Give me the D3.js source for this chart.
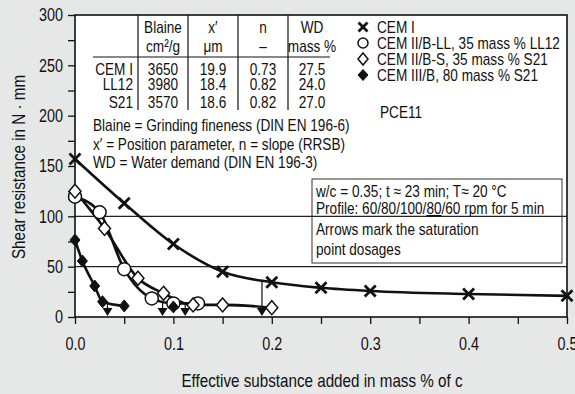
<!DOCTYPE html>
<html><head><meta charset="utf-8">
<script src="https://cdn.jsdelivr.net/npm/d3@7"></script>
<style>
body{margin:0;background:#e6e7e7;}
svg text{font-family:"Liberation Sans",Arial,sans-serif;fill:#111;}
</style></head><body>
<svg id="c" width="575" height="394"></svg>
<script>
// ---- data ----
const cemI_x = [0, 0.05, 0.1, 0.15, 0.2, 0.25, 0.3, 0.4, 0.5];
const cemI_y = [157, 113, 72.5, 45, 34.5, 29, 25.8, 22.8, 21];
const ll12_x = [0, 0.025, 0.05, 0.078, 0.1, 0.125];
const ll12_y = [119.5, 104, 47.5, 18.5, 13.5, 13.5];
const s21_x = [0, 0.03, 0.064, 0.09, 0.12, 0.15, 0.2];
const s21_y = [125, 88, 38.5, 23.5, 12, 12, 9.3];
const cem3_x = [0, 0.0075, 0.02, 0.028, 0.05];
const cem3_y = [76.5, 55.6, 30.8, 15.2, 11];
const cem3Extra_x = [0.1];
const cem3Extra_y = [10];
const arrow_x = [0.033, 0.089, 0.112, 0.19];
const arrow_top = [13, 16, 13, 35];
const xTickLabels = [0, 0.1, 0.2, 0.3, 0.4, 0.5];
const yTickLabels = [0, 50, 100, 150, 200, 250, 300];
const gridValues = [50, 100];
const legendNames = ["CEM I", "CEM II/B-LL, 35 mass % LL12", "CEM II/B-S, 35 mass % S21", "CEM III/B, 80 mass % S21"];
const legendShapes = ["cross", "circle", "diamondOpen", "diamondFilled"];
const tableHead1 = ["Blaine", "x\u2032", "n", "WD"];
const tableHead2 = ["cm²/g", "μm", "\u2013", "mass %"];
const tableRows = ["CEM I", "LL12", "S21"];
const tableBlaine = ["3650", "3980", "3570"];
const tableX = ["19.9", "18.4", "18.6"];
const tableN = ["0.73", "0.82", "0.82"];
const tableWD = ["27.5", "24.0", "27.0"];
const notes = ["Blaine = Grinding fineness (DIN EN 196-6)", "x\u2032 = Position parameter, n = slope (RRSB)", "WD = Water demand (DIN EN 196-3)"];

// ---- layout ----
const svg = d3.select("#c");
const L = 75, R = 567, T = 15, B = 317;
const FS = 17;          // font size
const NARROW = 0.80;    // horizontal condensing factor (condensed typeface look)
const x = d3.scaleLinear().domain([0, 0.5]).range([L, R]);
const y = d3.scaleLinear().domain([0, 300]).range([B, T]);

svg.append("rect").attr("x", L).attr("y", T).attr("width", R - L).attr("height", B - T).attr("fill", "#fff");

// text box (under gridline)
svg.append("rect").attr("x", 312).attr("y", 179).attr("width", 250).attr("height", 84)
  .attr("fill", "#fff").attr("stroke", "#333").attr("stroke-width", 1);

// gridlines
svg.selectAll(".grid").data(gridValues).join("line")
  .attr("x1", L).attr("x2", R).attr("y1", d => y(d)).attr("y2", d => y(d))
  .attr("stroke", "#222").attr("stroke-width", 1.2);

// axes
const yAxis = d3.axisLeft(y).tickValues(d3.range(0, 301, 25)).tickSize(7).tickPadding(5)
  .tickFormat(d => yTickLabels.includes(d) ? d : "");
const gy = svg.append("g").attr("transform", `translate(${L},0)`).call(yAxis);
const xAxis = d3.axisBottom(x).tickValues(d3.range(0, 0.5001, 0.05)).tickSize(7).tickPadding(13)
  .tickFormat(d => xTickLabels.some(v => Math.abs(v - d) < 1e-9) ? d3.format(".1f")(d) : "");
const gx = svg.append("g").attr("transform", `translate(0,${B})`).call(xAxis);
[gx, gy].forEach(g => {
  g.select(".domain").remove();
  g.selectAll("line").attr("stroke", "#111").attr("stroke-width", 1.3);
  g.selectAll("text").attr("font-size", FS + 1).attr("fill", "#111")
    .style("font-family", '"Liberation Sans",Arial,sans-serif');
});

// frame
svg.append("rect").attr("x", L).attr("y", T).attr("width", R - L).attr("height", B - T)
  .attr("fill", "none").attr("stroke", "#111").attr("stroke-width", 1.6);

// table
const tcx = [163, 213, 263, 312];
[138, 188, 238, 288].forEach(v => svg.append("line").attr("x1", v).attr("x2", v).attr("y1", T).attr("y2", 110)
  .attr("stroke", "#111").attr("stroke-width", 1.2));
svg.append("line").attr("x1", 93).attr("x2", 330).attr("y1", 57).attr("y2", 57).attr("stroke", "#111").attr("stroke-width", 1.2);
const tt = (s, xx, yy, anchor) => svg.append("text").attr("x", xx).attr("y", yy).attr("text-anchor", anchor || "middle")
  .attr("font-size", FS).text(s);
tableHead1.forEach((s, i) => tt(s, tcx[i], 33));
tableHead2.forEach((s, i) => tt(s, tcx[i], 52));
const rowY = [75, 90, 108];
tableRows.forEach((s, i) => tt(s, 133, rowY[i], "end"));
[tableBlaine, tableX, tableN, tableWD].forEach((col, c) => col.forEach((s, i) => tt(s, tcx[c], rowY[i])));
notes.forEach((s, i) => tt(s, 93, 131 + i * 18.5, "start"));

// markers
const markerPath = {
  cross: s => `M${-s},${-s}L${s},${s}M${-s},${s}L${s},${-s}`,
  diamond: (w, h) => `M0,${-h}L${w},0L0,${h}L${-w},0Z`
};
function drawMarker(g, shape, cx, cy, big) {
  if (shape === "cross") {
    g.append("path").attr("d", markerPath.cross(big ? 5.5 : 4.5)).attr("transform", `translate(${cx},${cy})`)
      .attr("stroke", "#111").attr("stroke-width", 2.8).attr("fill", "none");
  } else if (shape === "circle") {
    g.append("circle").attr("cx", cx).attr("cy", cy).attr("r", big ? 6.5 : 5)
      .attr("fill", "#fff").attr("stroke", "#111").attr("stroke-width", 1.5);
  } else if (shape === "diamondOpen") {
    g.append("path").attr("d", big ? markerPath.diamond(6, 7) : markerPath.diamond(5, 6)).attr("transform", `translate(${cx},${cy})`)
      .attr("fill", "#fff").attr("stroke", "#111").attr("stroke-width", 1.5);
  } else {
    g.append("path").attr("d", big ? markerPath.diamond(5, 6) : markerPath.diamond(5, 5.5)).attr("transform", `translate(${cx},${cy})`)
      .attr("fill", "#111").attr("stroke", "#111").attr("stroke-width", 1);
  }
}
// legend
const lg = svg.append("g");
legendNames.forEach((s, i) => {
  const by = 33 + i * 16;
  drawMarker(lg, legendShapes[i], 363, by - 6, false);
  lg.append("text").attr("x", 377).attr("y", by).attr("font-size", FS).text(s);
});
svg.append("text").attr("x", 380).attr("y", 118).attr("font-size", FS).text("PCE11");

// text box contents
const bt = (yy) => svg.append("text").attr("x", 316).attr("y", yy).attr("font-size", FS);
bt(197).text("w/c = 0.35; t \u2248 23 min; T\u2248 20 °C");
const p = bt(214);
p.append("tspan").text("Profile: 60/80/100/");
p.append("tspan").attr("text-decoration", "underline").text("80");
p.append("tspan").text("/60 rpm for 5 min");
bt(235).text("Arrows mark the saturation");
bt(255).text("point dosages");

// series
const series = [
  {xs: cemI_x, ys: cemI_y, shape: "cross"},
  {xs: ll12_x, ys: ll12_y, shape: "circle"},
  {xs: s21_x, ys: s21_y, shape: "diamondOpen"},
  {xs: cem3_x, ys: cem3_y, shape: "diamondFilled"}
];
const line = d3.line().x(d => x(d[0])).y(d => y(d[1])).curve(d3.curveMonotoneX);

// arrows (saturation points)
arrow_x.forEach((ax, i) => {
  svg.append("line").attr("x1", x(ax)).attr("x2", x(ax)).attr("y1", y(arrow_top[i])).attr("y2", y(0) - 5)
    .attr("stroke", "#111").attr("stroke-width", 1.2);
  svg.append("path").attr("d", `M${x(ax) - 5},${y(0) - 9}L${x(ax) + 5},${y(0) - 9}L${x(ax)},${y(0) - 1}Z`).attr("fill", "#111");
});

series.forEach(s => {
  const pts = s.xs.map((v, i) => [v, s.ys[i]]);
  svg.append("path").datum(pts).attr("d", line).attr("fill", "none").attr("stroke", "#111").attr("stroke-width", 2.6);
});
series.forEach(s => {
  s.xs.forEach((v, i) => drawMarker(svg, s.shape, x(v), y(s.ys[i]), true));
});
cem3Extra_x.forEach((v, i) => drawMarker(svg, "diamondFilled", x(v), y(cem3Extra_y[i]), true));

// axis titles
svg.append("text").attr("transform", "translate(25,167) rotate(-90)").attr("text-anchor", "middle")
  .attr("font-size", FS + 2).text("Shear resistance in N \u00b7 mm");
svg.append("text").attr("x", 322).attr("y", 387).attr("text-anchor", "middle")
  .attr("font-size", FS + 2).text("Effective substance added in mass % of c");

// condense every text horizontally to mimic the condensed typeface
svg.selectAll("text").each(function () {
  const w = this.getComputedTextLength();
  if (w > 0) {
    this.setAttribute("textLength", (w * NARROW).toFixed(1));
    this.setAttribute("lengthAdjust", "spacingAndGlyphs");
  }
});
</script></body></html>
